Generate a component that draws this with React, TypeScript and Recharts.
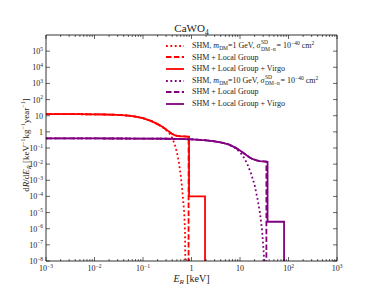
import { LineChart, Line, XAxis, YAxis, Legend, Label } from 'recharts';

// energies [keV] and rates [keV^-1 kg^-1 year^-1]
const redShmE = [0.001, 0.002, 0.005, 0.01, 0.02, 0.03, 0.05, 0.07, 0.1, 0.15, 0.2, 0.25, 0.3, 0.35, 0.4, 0.45, 0.5, 0.55, 0.6, 0.65, 0.68, 0.7, 0.72, 0.735, 0.745];
const redShmR = [12.6, 12.5, 12.4, 12.2, 11.8, 11.3, 10.2, 8.9, 7.0, 4.6, 3.0, 2.0, 1.3, 0.8, 0.42, 0.17, 0.055, 0.013, 2e-3, 2e-4, 4e-5, 1.5e-5, 3e-6, 6e-7, 1e-8];

const redLgE = [0.001, 0.002, 0.005, 0.01, 0.02, 0.03, 0.05, 0.07, 0.1, 0.15, 0.2, 0.25, 0.3, 0.35, 0.4, 0.45, 0.5, 0.6, 0.7, 0.8, 0.87, 0.87];
const redLgR = [12.6, 12.5, 12.4, 12.2, 11.8, 11.3, 10.2, 8.9, 7.0, 4.6, 3.0, 2.05, 1.4, 1.0, 0.75, 0.62, 0.56, 0.53, 0.52, 0.51, 0.5, 1e-8];

const redVirgoE = [0.001, 0.002, 0.005, 0.01, 0.02, 0.03, 0.05, 0.07, 0.1, 0.15, 0.2, 0.25, 0.3, 0.35, 0.4, 0.45, 0.5, 0.6, 0.7, 0.8, 0.89, 0.89, 1.9, 1.9];
const redVirgoR = [12.6, 12.5, 12.4, 12.2, 11.8, 11.3, 10.2, 8.9, 7.0, 4.6, 3.0, 2.05, 1.4, 1.0, 0.75, 0.62, 0.56, 0.53, 0.52, 0.51, 0.5, 1e-4, 1e-4, 1e-8];

const purShmE = [0.001, 0.01, 0.1, 0.3, 0.5, 1, 1.5, 2, 3, 4, 5, 6, 8, 10, 12, 14, 17, 20, 23, 26, 28.5, 30.5, 31.7];
const purShmR = [0.39, 0.39, 0.385, 0.375, 0.365, 0.345, 0.32, 0.3, 0.26, 0.22, 0.19, 0.16, 0.1, 0.055, 0.026, 0.011, 2.5e-3, 5e-4, 7e-5, 8e-6, 8e-7, 5e-8, 1e-8];

const purLgE = [0.001, 0.01, 0.1, 0.3, 0.5, 1, 1.5, 2, 3, 4, 5, 6, 8, 10, 12, 15, 18, 22, 26, 30, 35, 35];
const purLgR = [0.39, 0.39, 0.385, 0.375, 0.365, 0.345, 0.32, 0.3, 0.26, 0.22, 0.19, 0.16, 0.105, 0.07, 0.047, 0.029, 0.021, 0.017, 0.0155, 0.0148, 0.0142, 1e-8];

const purVirgoE = [0.001, 0.01, 0.1, 0.3, 0.5, 1, 1.5, 2, 3, 4, 5, 6, 8, 10, 12, 15, 18, 22, 26, 30, 34, 37, 37, 81, 81];
const purVirgoR = [0.39, 0.39, 0.385, 0.375, 0.365, 0.345, 0.32, 0.3, 0.26, 0.22, 0.19, 0.16, 0.105, 0.07, 0.047, 0.029, 0.021, 0.017, 0.0155, 0.0148, 0.0143, 0.014, 2.7e-6, 2.7e-6, 1e-8];

const xMajor = [1e-3, 1e-2, 1e-1, 1, 10, 100, 1000];
const minorSubs = [2, 3, 4, 5, 6, 7, 8, 9];
const yMajor = [1e-8, 1e-7, 1e-6, 1e-5, 1e-4, 1e-3, 1e-2, 1e-1, 1, 10, 100, 1e3, 1e4, 1e5];

const RED = '#ff0000';
const PURPLE = '#800080';
const FONT = '"Liberation Serif", "DejaVu Serif", serif';

const zip = (e: number[], r: number[]) => e.map((x, i) => ({ e: x, v: r[i] }));

const xTicks = [
  ...xMajor,
  ...xMajor.slice(0, -1).flatMap((d) => minorSubs.map((s) => s * d)),
].sort((a, b) => a - b);

const isDecade = (v: number) => Math.abs(Math.log10(v) - Math.round(Math.log10(v))) < 1e-6;

function powLabel(v: number, x: number, y: number, anchor: 'middle' | 'end') {
  const k = Math.round(Math.log10(v));
  if (k === 0 || k === 1) {
    return (
      <text x={x} y={y} textAnchor={anchor} fontSize={8} fontFamily={FONT} fill="#222">
        {k === 0 ? '1' : '10'}
      </text>
    );
  }
  return (
    <text x={x} y={y} textAnchor={anchor} fontSize={8} fontFamily={FONT} fill="#222">
      <tspan>10</tspan>
      <tspan dy={-3.5} fontSize={5.5}>{k < 0 ? `\u2212${-k}` : `${k}`}</tspan>
    </text>
  );
}

const BottomTick = (p: any) => {
  const major = isDecade(p.payload.value);
  return (
    <g>
      <line x1={p.x} x2={p.x} y1={p.y} y2={p.y - (major ? 4 : 2)} stroke="#000" strokeWidth={0.6} />
      {major && powLabel(p.payload.value, p.x, p.y + 10, 'middle')}
    </g>
  );
};

const TopTick = (p: any) => {
  const major = isDecade(p.payload.value);
  return <line x1={p.x} x2={p.x} y1={p.y} y2={p.y + (major ? 4 : 2)} stroke="#000" strokeWidth={0.6} />;
};

const LeftTick = (p: any) => (
  <g>
    <line x1={p.x} x2={p.x + 4} y1={p.y} y2={p.y} stroke="#000" strokeWidth={0.6} />
    {powLabel(p.payload.value, p.x - 3, p.y + 3, 'end')}
  </g>
);

const RightTick = (p: any) => (
  <line x1={p.x} x2={p.x - 4} y1={p.y} y2={p.y} stroke="#000" strokeWidth={0.6} />
);

const legendRows = [
  { color: RED, dash: '1.8 2.6', kind: 'shm', mass: '1' },
  { color: RED, dash: '5.5 2.4', kind: 'lg' },
  { color: RED, dash: undefined, kind: 'virgo' },
  { color: PURPLE, dash: '1.8 2.6', kind: 'shm', mass: '10' },
  { color: PURPLE, dash: '5.5 2.4', kind: 'lg' },
  { color: PURPLE, dash: undefined, kind: 'virgo' },
];

const small: React.CSSProperties = { fontSize: 5.5, lineHeight: '6px' };

function renderLegend() {
  return (
    <div style={{ fontFamily: FONT, fontSize: 8, color: '#222', lineHeight: '11.6px' }}>
      {legendRows.map((r, i) => (
        <div key={i} style={{ display: 'flex', alignItems: 'center', height: 11.6, whiteSpace: 'nowrap' }}>
          <svg width={24} height={4} style={{ marginRight: 4 }}>
            <line x1={2} x2={20} y1={2} y2={2} stroke={r.color} strokeWidth={1.8} strokeDasharray={r.dash} />
          </svg>
          {r.kind === 'shm' ? (
            <span>
              SHM, <i>m</i>
              <span style={{ ...small, position: 'relative', top: 2 }}>DM</span>={r.mass} GeV, <i>σ</i>
              <span style={{ position: 'relative', display: 'inline-block', width: 14, height: 0 }}>
                <span style={{ ...small, position: 'absolute', left: 0.5, top: -9 }}>SD</span>
                <span style={{ ...small, position: 'absolute', left: 0.5, top: -2.5 }}>DM−n</span>
              </span>
              {' '}= 10<span style={{ ...small, position: 'relative', top: -3 }}>−40</span> cm
              <span style={{ ...small, position: 'relative', top: -3 }}>2</span>
            </span>
          ) : (
            <span>{r.kind === 'lg' ? 'SHM + Local Group' : 'SHM + Local Group + Virgo'}</span>
          )}
        </div>
      ))}
    </div>
  );
}

export default function App() {
  return (
    <div style={{ position: 'absolute', left: 0, top: 0, width: 374, height: 299, background: '#fff' }}>
      <LineChart width={374} height={299} margin={{ top: 30, right: 32, bottom: 8, left: 6 }}>
        <XAxis
          xAxisId="b"
          type="number"
          dataKey="e"
          scale="log"
          domain={[1e-3, 1e3]}
          allowDataOverflow
          ticks={xTicks}
          interval={0}
          tick={<BottomTick />}
          tickSize={0}
          tickMargin={0}
          tickLine={false}
          axisLine={{ stroke: '#000', strokeWidth: 0.8 }}
          height={30}
        >
          <Label
            content={() => (
              <text x={191.5} y={282} textAnchor="middle" fontSize={10} fontFamily={FONT} fill="#222">
                <tspan fontStyle="italic">E</tspan>
                <tspan dy={2} fontSize={7} fontStyle="italic">R</tspan>
                <tspan dy={-2}> [keV]</tspan>
              </text>
            )}
          />
        </XAxis>
        <XAxis
          xAxisId="t"
          orientation="top"
          type="number"
          dataKey="e"
          scale="log"
          domain={[1e-3, 1e3]}
          allowDataOverflow
          ticks={xTicks}
          interval={0}
          tick={<TopTick />}
          tickSize={0}
          tickMargin={0}
          tickLine={false}
          axisLine={{ stroke: '#000', strokeWidth: 0.8 }}
          height={5}
        >
          <Label
            content={() => (
              <text x={191.5} y={32} textAnchor="middle" fontSize={11} fontFamily={FONT} fill="#222">
                <tspan>CaWO</tspan>
                <tspan dy={2.5} fontSize={7.5}>4</tspan>
              </text>
            )}
          />
        </XAxis>
        <YAxis
          yAxisId="l"
          type="number"
          scale="log"
          domain={[1e-8, 1e6]}
          allowDataOverflow
          ticks={yMajor}
          interval={0}
          tick={<LeftTick />}
          tickSize={0}
          tickMargin={0}
          tickLine={false}
          axisLine={{ stroke: '#000', strokeWidth: 0.8 }}
          width={40}
        >
          <Label
            content={() => (
              <text
                x={28.5}
                y={145}
                transform="rotate(-90 28.5 145)"
                textAnchor="middle"
                fontSize={9}
                fontFamily={FONT}
                fill="#222"
              >
                <tspan>d</tspan>
                <tspan fontStyle="italic">R</tspan>
                <tspan>/d</tspan>
                <tspan fontStyle="italic">E</tspan>
                <tspan dy={2} fontSize={6.5} fontStyle="italic">R</tspan>
                <tspan dy={-2}> [keV</tspan>
                <tspan dy={-3.5} fontSize={6}>−1</tspan>
                <tspan dy={3.5}>kg</tspan>
                <tspan dy={-3.5} fontSize={6}>−1</tspan>
                <tspan dy={3.5}>year</tspan>
                <tspan dy={-3.5} fontSize={6}>−1</tspan>
                <tspan dy={3.5}>]</tspan>
              </text>
            )}
          />
        </YAxis>
        <YAxis
          yAxisId="r"
          orientation="right"
          type="number"
          scale="log"
          domain={[1e-8, 1e6]}
          allowDataOverflow
          ticks={yMajor}
          interval={0}
          tick={<RightTick />}
          tickSize={0}
          tickMargin={0}
          tickLine={false}
          axisLine={{ stroke: '#000', strokeWidth: 0.8 }}
          width={5}
        />
        <Legend
          layout="vertical"
          align="center"
          verticalAlign="middle"
          content={renderLegend}
          wrapperStyle={{ left: 164, top: 40, width: 210, height: 72 }}
        />
        <Line xAxisId="b" yAxisId="l" data={zip(redShmE, redShmR)} dataKey="v" type="linear" dot={false}
          stroke={RED} strokeWidth={1.8} strokeDasharray="1.8 2.6" isAnimationActive={false} />
        <Line xAxisId="b" yAxisId="l" data={zip(redLgE, redLgR)} dataKey="v" type="linear" dot={false}
          stroke={RED} strokeWidth={1.8} strokeDasharray="5.5 2.4" isAnimationActive={false} />
        <Line xAxisId="b" yAxisId="l" data={zip(redVirgoE, redVirgoR)} dataKey="v" type="linear" dot={false}
          stroke={RED} strokeWidth={1.8} isAnimationActive={false} />
        <Line xAxisId="b" yAxisId="l" data={zip(purShmE, purShmR)} dataKey="v" type="linear" dot={false}
          stroke={PURPLE} strokeWidth={1.8} strokeDasharray="1.8 2.6" isAnimationActive={false} />
        <Line xAxisId="b" yAxisId="l" data={zip(purLgE, purLgR)} dataKey="v" type="linear" dot={false}
          stroke={PURPLE} strokeWidth={1.8} strokeDasharray="5.5 2.4" isAnimationActive={false} />
        <Line xAxisId="b" yAxisId="l" data={zip(purVirgoE, purVirgoR)} dataKey="v" type="linear" dot={false}
          stroke={PURPLE} strokeWidth={1.8} isAnimationActive={false} />
      </LineChart>
    </div>
  );
}
